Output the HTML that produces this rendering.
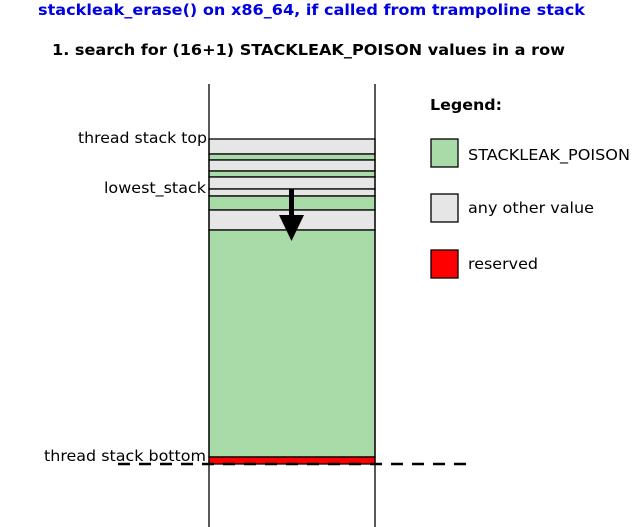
<!DOCTYPE html>
<html><head><style>body{margin:0;background:#fff}svg{display:block}</style></head><body>
<svg width="640" height="527" xmlns="http://www.w3.org/2000/svg" font-family="DejaVu Sans, Liberation Sans, sans-serif">
<text x="38" y="15" font-size="15" font-weight="bold" fill="#0000e0" textLength="547" lengthAdjust="spacingAndGlyphs">stackleak_erase() on x86_64, if called from trampoline stack</text>
<text x="52" y="55" font-size="15" font-weight="bold" fill="#000" textLength="513" lengthAdjust="spacingAndGlyphs">1. search for (16+1) STACKLEAK_POISON values in a row</text>
<g stroke="#000" stroke-width="1.3">
<rect x="209" y="139" width="166" height="15" fill="#e6e6e6"/>
<rect x="209" y="154" width="166" height="6" fill="#a8dba8"/>
<rect x="209" y="160" width="166" height="11" fill="#e6e6e6"/>
<rect x="209" y="171" width="166" height="6" fill="#a8dba8"/>
<rect x="209" y="177" width="166" height="12" fill="#e6e6e6"/>
<rect x="209" y="189" width="166" height="7" fill="#e6e6e6"/>
<rect x="209" y="196" width="166" height="14" fill="#a8dba8"/>
<rect x="209" y="210" width="166" height="20" fill="#e6e6e6"/>
<rect x="209" y="230" width="166" height="227" fill="#a8dba8"/>
<rect x="209" y="457" width="166" height="7" fill="#f00"/>
<line x1="209" y1="84" x2="209" y2="527"/>
<line x1="375" y1="84" x2="375" y2="527"/>
</g>
<line x1="118" y1="464" x2="467" y2="464" stroke="#000" stroke-width="2.5" stroke-dasharray="12,9"/>
<rect x="289" y="189" width="5" height="30" fill="#000"/>
<polygon points="279,215 304,215 291.5,241" fill="#000"/>
<g font-size="15.5" fill="#000">
<text x="78" y="143" textLength="129" lengthAdjust="spacingAndGlyphs">thread stack top</text>
<text x="104" y="193" textLength="102" lengthAdjust="spacingAndGlyphs">lowest_stack</text>
<text x="44" y="461" textLength="162" lengthAdjust="spacingAndGlyphs">thread stack bottom</text>
<text x="430" y="110" font-weight="bold" textLength="72" lengthAdjust="spacingAndGlyphs">Legend:</text>
<text x="468" y="160" textLength="162" lengthAdjust="spacingAndGlyphs">STACKLEAK_POISON</text>
<text x="468" y="213" textLength="126" lengthAdjust="spacingAndGlyphs">any other value</text>
<text x="468" y="269" textLength="70" lengthAdjust="spacingAndGlyphs">reserved</text>
</g>
<g stroke="#000" stroke-width="1.3">
<rect x="431" y="139" width="27" height="28" fill="#a8dba8"/>
<rect x="431" y="194" width="27" height="28" fill="#e6e6e6"/>
<rect x="431" y="250" width="27" height="28" fill="#f00"/>
</g>
</svg>
</body></html>
